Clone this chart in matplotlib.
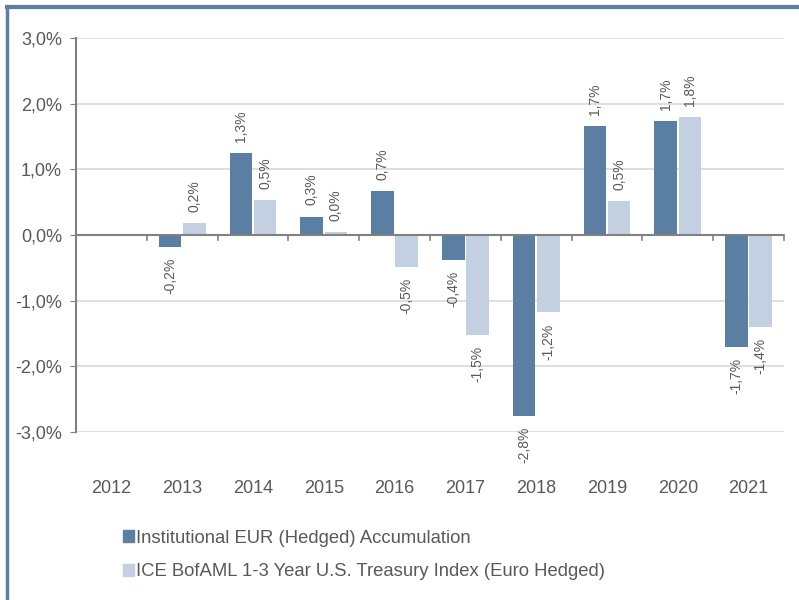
import numpy as np
import matplotlib.pyplot as plt
from matplotlib.patches import Rectangle
from matplotlib.lines import Line2D

plt.rcParams["font.family"] = ["Liberation Sans", "DejaVu Sans"]

years = ["2012", "2013", "2014", "2015", "2016", "2017", "2018", "2019", "2020", "2021"]
fund = [np.nan, -0.18, 1.25, 0.28, 0.67, -0.38, -2.75, 1.66, 1.73, -1.70]
index = [np.nan, 0.18, 0.53, 0.04, -0.48, -1.52, -1.18, 0.52, 1.80, -1.40]
fund_labels = ["", "-0,2%", "1,3%", "0,3%", "0,7%", "-0,4%", "-2,8%", "1,7%", "1,7%", "-1,7%"]
index_labels = ["", "0,2%", "0,5%", "0,0%", "-0,5%", "-1,5%", "-1,2%", "0,5%", "1,8%", "-1,4%"]

dark = "#5b7ea3"
light = "#c3d0e2"
txt = "#595959"

fig = plt.figure(figsize=(7.99, 6), dpi=100)
ax = fig.add_axes([76 / 799, 1 - 432 / 600, 708 / 799, 394 / 600])

x = np.arange(len(years))
w = 0.32
ax.bar(x - w / 2 - 0.01, fund, w, color=dark, zorder=3)
ax.bar(x + w / 2 + 0.01, index, w, color=light, zorder=3)

for pos, vals, labs in [(x - w / 2 - 0.01, fund, fund_labels),
                        (x + w / 2 + 0.01, index, index_labels)]:
    for xi, v, lab in zip(pos, vals, labs):
        if np.isnan(v):
            continue
        off = 0.17 if v >= 0 else -0.17
        ax.text(xi, v + off, lab, rotation=90, ha="center",
                va="bottom" if v >= 0 else "top", fontsize=10, color=txt)

ax.set_xlim(-0.5, len(years) - 0.5)
ax.set_ylim(-3, 3)
ax.set_yticks(np.arange(-3, 4, 1))
ax.set_yticklabels(["-3,0%", "-2,0%", "-1,0%", "0,0%", "1,0%", "2,0%", "3,0%"])
ax.yaxis.grid(True, color="#d9d9d9", linewidth=1.2, zorder=0)
ax.set_axisbelow(True)
ax.tick_params(axis="y", colors="#808080", labelcolor=txt, labelsize=13, length=4, pad=6)

# x axis at zero with tick marks between categories
ax.set_xticks([])
ax.axhline(0, color="#808080", linewidth=1.5, zorder=4)
for b in np.arange(-0.5, len(years), 1):
    ax.plot([b, b], [0, -0.08], color="#808080", linewidth=1.2, zorder=4, clip_on=False)
for xi, y in zip(x, years):
    ax.text(xi, -3.86, y, ha="center", va="center", fontsize=13, color=txt)

for s in ["top", "right", "bottom"]:
    ax.spines[s].set_visible(False)
ax.spines["left"].set_color("#808080")
ax.spines["left"].set_linewidth(1.5)

handles = [Rectangle((0, 0), 1, 1, color=dark), Rectangle((0, 0), 1, 1, color=light)]
fig.legend(handles, ["Institutional EUR (Hedged) Accumulation",
                     "ICE BofAML 1-3 Year U.S. Treasury Index (Euro Hedged)"],
           loc="upper left", bbox_to_anchor=(106 / 799, 1 - 513 / 600), frameon=False,
           fontsize=13.3, labelcolor=txt, handlelength=0.6, handleheight=0.6,
           handletextpad=0.15, labelspacing=0.9)

# outer frame (top and left)
fig.add_artist(Line2D([7 / 799, 1], [1 - 7 / 600, 1 - 7 / 600], color=dark, linewidth=3,
                      transform=fig.transFigure))
fig.add_artist(Line2D([7 / 799, 7 / 799], [0, 1 - 7 / 600], color=dark, linewidth=2.5,
                      transform=fig.transFigure))

fig.savefig("out.png", dpi=100)
